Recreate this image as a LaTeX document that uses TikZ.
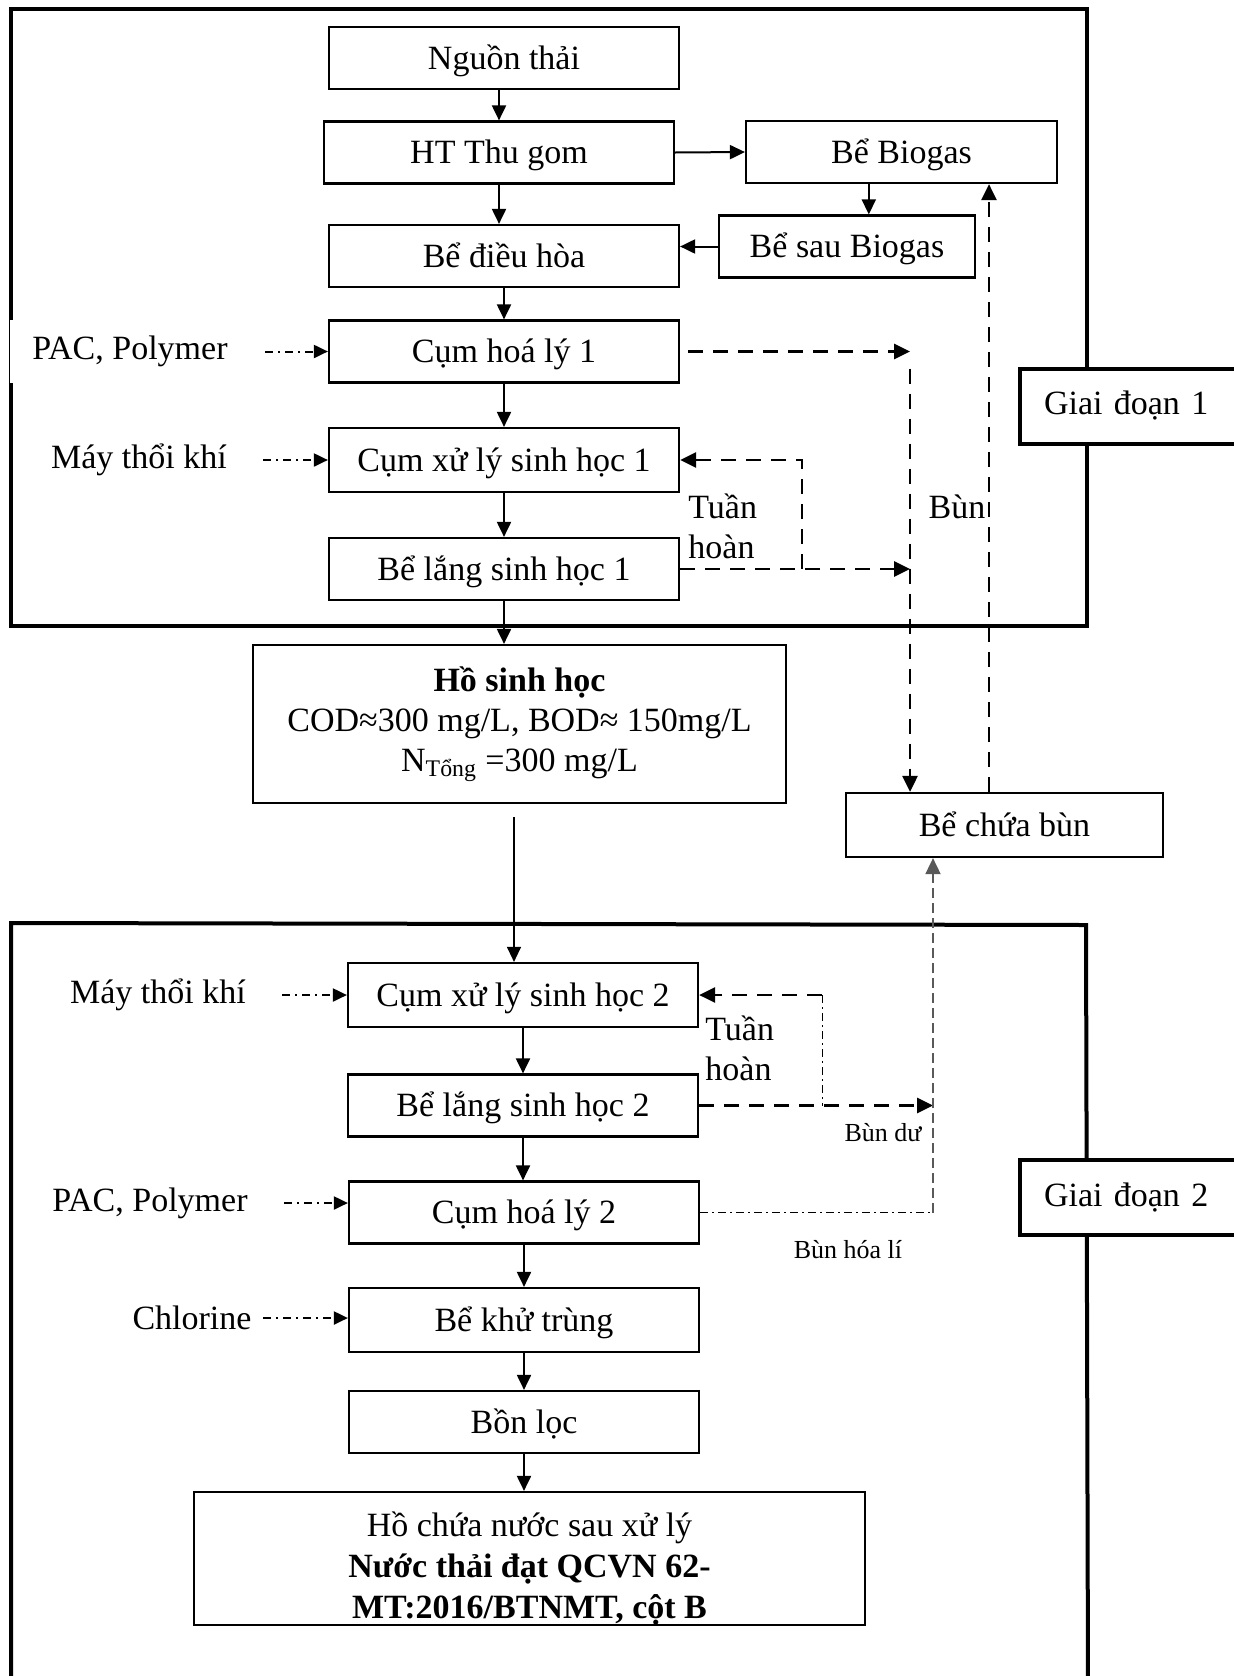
\documentclass[tikz,border=0pt]{standalone}
\usepackage{fontspec}
\setmainfont{Liberation Serif}
\usepackage{tikz}
\usetikzlibrary{arrows.meta, calc}
\tikzstyle{tank}=[rectangle, draw, line width=1.1pt, minimum width=175pt, minimum height=31pt, inner sep=2pt, text height=15pt, text depth=4pt, align=center]
\tikzstyle{stagebox}=[rectangle, draw, fill=white, line width=2pt, anchor=west, minimum width=120pt, minimum height=37.5pt, text width=96pt, inner xsep=12pt, align=left]
\tikzstyle{note}=[inner sep=0pt, align=left]
\tikzstyle{frame}=[line width=2pt]
\tikzstyle{flow}=[line width=1pt, -{Triangle[length=7.5pt, width=7pt]}]
\tikzstyle{feed}=[line width=1pt, dash pattern=on 4pt off 2.5pt on 1pt off 2.5pt, -{Triangle[length=7pt, width=6.5pt]}]
\tikzstyle{sludge}=[line width=1.4pt, dash pattern=on 7.5pt off 5pt, -{Triangle[length=8pt, width=7.5pt]}]
\tikzstyle{chem}=[line width=0.5pt, dash pattern=on 4pt off 2pt on 1pt off 2pt]
\newcommand{\tank}{\node[tank]}

\begin{document}
\begin{tikzpicture}[x=0.5pt, y=-0.5pt, font=\fontsize{17}{20}\selectfont,
            every edge/.style={draw}
        ]
            \useasboundingbox (0,0) rectangle (1234,1676);
            \draw[frame] (11,9) rectangle (1087,626);
            \draw[frame] (11,1690) -- (11,923) -- (1086,925) -- (1088,1690);
            \node[stagebox] (gd1) at (1018,406) {Giai đoạn 1};
            \node[stagebox] (gd2) at (1018,1197.5) {Giai đoạn 2};

            \tank (nguon) at (504,58) {Nguồn thải};
            \tank (thugom) at (499,152.5) {HT Thu gom};
            \tank (biogas) at (901.5,152) [minimum width=155.5pt] {Bể Biogas};
            \tank (saubiogas) at (847,246.5) [minimum width=128pt] {Bể sau Biogas};
            \tank (dieuhoa) at (504,256) {Bể điều hòa};
            \tank (hoaly1) at (504,351.5) {Cụm hoá lý 1};
            \tank (sinhhoc1) at (504,460) [minimum height=32pt] {Cụm xử lý sinh học 1};
            \tank (lang1) at (504,569) {Bể lắng sinh học 1};
            \tank (hosinhhoc) at (519.5,724) [minimum width=266.5pt, minimum height=79pt, text height=, text depth=]
                {\textbf{Hồ sinh học}\\COD≈300 mg/L, BOD≈ 150mg/L\\N\textsubscript{Tổng} =300 mg/L};
            \tank (chuabun) at (1004.5,825) [minimum width=158.5pt, minimum height=32pt] {Bể chứa bùn};
            \tank (sinhhoc2) at (523,995) [minimum height=32pt] {Cụm xử lý sinh học 2};
            \tank (lang2) at (523,1105.5) {Bể lắng sinh học 2};
            \tank (hoaly2) at (524,1212.5) {Cụm hoá lý 2};
            \tank (khutrung) at (524,1320) [minimum height=32pt] {Bể khử trùng};
            \tank (bonloc) at (524,1422) {Bồn lọc};
            \tank (hochua) at (529.5,1558.5) [minimum width=335.5pt, minimum height=66.5pt, inner sep=0pt, text height=, text depth=0pt, font=\fontsize{17}{20.5}\selectfont]
                {\rule{0pt}{19pt}Hồ chứa nước sau xử lý\\\textbf{Nước thải đạt QCVN 62-}\\\textbf{MT:2016/BTNMT, cột B}};

            \node[note] (pac1) at (130,351.5) [fill=white, minimum width=120.5pt, minimum height=31.5pt, align=center] {PAC, Polymer};
            \node[note] (may1) at (139,460) {Máy thổi khí};
            \node[note] (may2) at (158,995) {Máy thổi khí};
            \node[note] (pac2) at (150,1203) {PAC, Polymer};
            \node[note] (chlorine) at (192,1318) {Chlorine};
            \node[note] (tuan1) at (688,526) [anchor=west] {Tuần\\hoàn};
            \node[note] (tuan2) at (705,1048) [anchor=west] {Tuần\\hoàn};
            \node[note] (bun) at (957,507) {Bùn};
            \node[note] (bundu) at (883,1133) [font=\fontsize{13}{15}\selectfont] {Bùn dư};
            \node[note] (bunhoali) at (848,1250) [font=\fontsize{13}{15}\selectfont] {Bùn hóa lí};

            \coordinate (bmid) at ($(biogas.south)!.6!(saubiogas.north)$);
            \coordinate (lake) at ([xshift=-2.75pt]hosinhhoc.south);
            \coordinate (bun1) at (910,353);
            \coordinate (th1) at (802,460);
            \coordinate (ret) at (989,0);
            \coordinate (th2) at (822,995);
            \coordinate (bun2) at (933,1105);
        \path[flow]
                (thugom.north |- nguon.south) edge (thugom.north)
                (thugom.east) edge (biogas.west)
                (thugom.south) edge (thugom.south |- dieuhoa.north)
                (bmid |- biogas.south) edge (bmid |- saubiogas.north)
                (saubiogas.west) edge (saubiogas.west -| dieuhoa.east)
                (dieuhoa) edge (hoaly1)
                (hoaly1) edge (sinhhoc1)
                (sinhhoc1) edge (lang1)
                (lang1.south) edge (lang1.south |- hosinhhoc.north)
                (sinhhoc2) edge (lang2)
                (lang2.south) edge (lang2.south |- hoaly2.north)
                (hoaly2) edge (khutrung)
                (khutrung) edge (bonloc)
                (bonloc.south) edge (bonloc.south |- hochua.north)
            ;
        \draw[flow, line width=0.6pt, shorten <=6.5pt] (lake) -- (lake |- sinhhoc2.north);
        \draw[feed, shorten <=7.25pt] (pac1.east) -- (pac1.east -| hoaly1.west);
        \path[feed, shorten <=18pt]
                (may1.east) edge (may1.east -| sinhhoc1.west)
                (may2.east) edge (may2.east -| sinhhoc2.west)
                (pac2.east) edge (pac2.east -| hoaly2.west)
            ;
        \draw[feed, shorten <=5.5pt] (chlorine.east) -- (chlorine.east -| khutrung.west);
        \draw[sludge, shorten <=4pt] (hoaly1.east) -- (hoaly1.east -| bun1);
        \draw[sludge] ([yshift=-8.5pt]hoaly1.east -| bun1) -- (bun1 |- chuabun.north);
        \draw[sludge] (lang1.east) -- (lang1.east -| bun1);
        \draw[sludge] (th1 |- lang1.east) -- (th1) -- (sinhhoc1.east);
        \draw[sludge] (ret |- chuabun.north) -- (ret |- biogas.south);
        \draw[sludge] (th2) -- (sinhhoc2.east);
        \draw[chem] (th2) -- (th2 |- lang2.east);
        \draw[sludge] (lang2.east) -- (lang2.east -| bun2);
        \draw[chem] (hoaly2.east) -- (hoaly2.east -| bun2);
        \draw[sludge, black!65, line width=0.9pt, dash pattern=on 5pt off 2.5pt] (hoaly2.east -| bun2) -- (bun2 |- chuabun.south);
\end{tikzpicture}
\end{document}
